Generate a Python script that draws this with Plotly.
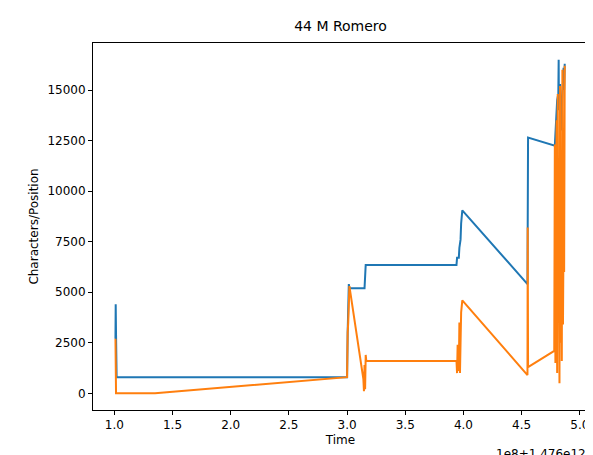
import plotly.graph_objects as go

# time offsets (units of 1e8 ms, offset 1.476e12) and values
blue_t = [1.01, 1.012, 1.015, 1.02, 1.35, 3.0, 3.005, 3.01, 3.015, 3.02, 3.15, 3.16, 3.94, 3.945,
          3.96, 3.965, 3.975, 3.98, 3.99, 4.55, 4.552, 4.555, 4.785, 4.79, 4.80, 4.805, 4.815,
          4.818, 4.82, 4.83, 4.84, 4.85, 4.86, 4.865, 4.87]
blue_y = [2700, 4400, 2900, 800, 800, 800, 3000, 4300, 5400, 5200, 5200, 6350, 6350, 6700,
          6700, 7200, 7600, 8400, 9050, 5400, 12000, 12650, 12250, 12700, 13500, 14500, 14800,
          16500, 14000, 15300, 13000, 14700, 16100, 15000, 16300]

orange_t = [1.01, 1.012, 1.015, 1.35, 3.0, 3.005, 3.01, 3.02, 3.14, 3.145, 3.15, 3.155, 3.16,
            3.165, 3.94, 3.945, 3.95, 3.96, 3.965, 3.97, 3.975, 3.98, 3.99, 4.55, 4.552, 4.555,
            4.78, 4.785, 4.79, 4.795, 4.80, 4.805, 4.81, 4.815, 4.82, 4.825, 4.83, 4.835, 4.84,
            4.845, 4.85, 4.855, 4.86, 4.865, 4.87]
orange_y = [2700, 0, 0, 0, 800, 3000, 3500, 5300, 700, 100, 1400, 200, 1900, 1600,
            1600, 1000, 2400, 1100, 3500, 1000, 2500, 4000, 4600, 900, 8200, 1300,
            2100, 12300, 1500, 9000, 13500, 1000, 14800, 3500, 10000, 500, 15200, 2500, 9000,
            1600, 16000, 3400, 8000, 6000, 16200]

fig = go.Figure()
fig.add_trace(go.Scatter(x=blue_t, y=blue_y, mode='lines',
                         line=dict(color='#1f77b4', width=2)))
fig.add_trace(go.Scatter(x=orange_t, y=orange_y, mode='lines',
                         line=dict(color='#ff7f0e', width=2)))

axis_style = dict(showline=True, linecolor='black', linewidth=1, mirror=True,
                  ticks='outside', ticklen=4, tickcolor='black', showgrid=False,
                  zeroline=False, automargin=False, tickfont=dict(size=12, color='black'))
fig.update_layout(
    width=593, height=455,
    margin=dict(l=85, r=13, t=35, b=53),
    paper_bgcolor='white', plot_bgcolor='white',
    font=dict(family='DejaVu Sans', color='black'),
    showlegend=False,
    title=dict(text='44 M Romero', x=0.5, xanchor='center', xref='paper',
               y=0.96, yref='container', yanchor='middle', font=dict(size=14)),
    xaxis=dict(range=[0.817, 5.07], tickvals=[1.0, 1.5, 2.0, 2.5, 3.0, 3.5, 4.0, 4.5, 5.0],
               ticktext=['1.0', '1.5', '2.0', '2.5', '3.0', '3.5', '4.0', '4.5', '5.0'],
               title=dict(text='Time', font=dict(size=12), standoff=4), **axis_style),
    yaxis=dict(range=[-825, 17325], tickvals=[0, 2500, 5000, 7500, 10000, 12500, 15000],
               ticktext=['0', '2500', '5000', '7500', '10000', '12500', '15000'],
               title=dict(text='Characters/Position', font=dict(size=12), standoff=6),
               **axis_style),
)
fig.add_annotation(text='1e8+1.476e12', xref='paper', yref='paper', x=1.0, y=-0.095,
                   xanchor='right', yanchor='top', showarrow=False, font=dict(size=12))
fig.write_html("out.html")
